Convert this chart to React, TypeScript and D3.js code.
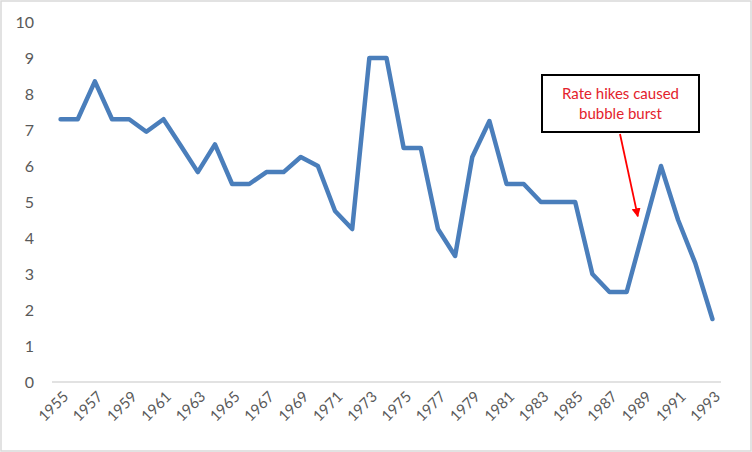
import React, { useEffect, useRef } from "react";
import * as d3 from "d3";

const years: number[] = d3.range(1955, 1994);
const rates: number[] = [
  7.3, 7.3, 8.35, 7.3, 7.3, 6.95, 7.3, 6.57, 5.83, 6.6,
  5.5, 5.5, 5.83, 5.83, 6.25, 6.0, 4.75, 4.25, 9.0, 9.0,
  6.5, 6.5, 4.25, 3.5, 6.25, 7.25, 5.5, 5.5, 5.0, 5.0,
  5.0, 3.0, 2.5, 2.5, 4.25, 6.0, 4.5, 3.3, 1.75,
];
const yTicks: number[] = d3.range(0, 11);
const noteLines: string[] = ["Rate hikes caused", "bubble burst"];
const noteTarget = { year: 1988.65, value: 4.6 };

const width = 752;
const height = 452;
const margin = { top: 22, right: 31, bottom: 70, left: 52 };
const font = "Lato, 'Open Sans', sans-serif";

const App: React.FC = () => {
  const svgRef = useRef<SVGSVGElement | null>(null);

  useEffect(() => {
    const svg = d3.select(svgRef.current);
    svg.selectAll("*").remove();

    const x = d3
      .scaleBand<number>()
      .domain(years)
      .range([margin.left, width - margin.right]);
    const y = d3
      .scaleLinear()
      .domain([0, 10])
      .range([height - margin.bottom, margin.top]);
    const cx = (yr: number) => x(yr)! + x.bandwidth() / 2;
    const step = x.step();
    const xAt = (yr: number) => cx(years[0]) + (yr - years[0]) * step;

    // chart border
    svg
      .append("rect")
      .attr("x", 1)
      .attr("y", 1)
      .attr("width", width - 2)
      .attr("height", height - 2)
      .attr("fill", "#fff")
      .attr("stroke", "#d9d9d9")
      .attr("stroke-width", 1.5);

    // baseline
    svg
      .append("line")
      .attr("x1", margin.left)
      .attr("x2", width - margin.right)
      .attr("y1", y(0))
      .attr("y2", y(0))
      .attr("stroke", "#d9d9d9")
      .attr("stroke-width", 1.5);

    // y labels
    svg
      .append("g")
      .selectAll("text")
      .data(yTicks)
      .join("text")
      .attr("x", 34)
      .attr("y", (d) => y(d))
      .attr("dy", "0.36em")
      .attr("text-anchor", "end")
      .attr("font-family", font)
      .attr("font-size", 16)
      .attr("fill", "#595959")
      .text((d) => d);

    // x labels (every other year)
    svg
      .append("g")
      .selectAll("text")
      .data(years.filter((_, i) => i % 2 === 0))
      .join("text")
      .attr(
        "transform",
        (d) => `translate(${cx(d) + 5},${y(0) + 12}) rotate(-45)`
      )
      .attr("text-anchor", "end")
      .attr("dy", "0.35em")
      .attr("font-family", font)
      .attr("font-size", 15)
      .attr("fill", "#595959")
      .text((d) => d);

    // series line
    const line = d3
      .line<number>()
      .x((_, i) => cx(years[i]))
      .y((d) => y(d));
    svg
      .append("path")
      .datum(rates)
      .attr("d", line)
      .attr("fill", "none")
      .attr("stroke", "#4a7ebb")
      .attr("stroke-width", 4.5)
      .attr("stroke-linejoin", "round")
      .attr("stroke-linecap", "round");

    // annotation
    const box = { x: 542, y: 75, w: 157, h: 57 };
    const note = svg.append("g");
    note
      .append("rect")
      .attr("x", box.x)
      .attr("y", box.y)
      .attr("width", box.w)
      .attr("height", box.h)
      .attr("fill", "#fff")
      .attr("stroke", "#000")
      .attr("stroke-width", 2);
    note
      .selectAll("text")
      .data(noteLines)
      .join("text")
      .attr("x", box.x + box.w / 2)
      .attr("y", (_, i) => 99 + i * 20)
      .attr("text-anchor", "middle")
      .attr("font-family", font)
      .attr("font-size", 15)
      .attr("fill", "#e3222c")
      .text((d) => d);

    svg
      .append("defs")
      .append("marker")
      .attr("id", "arrowhead")
      .attr("viewBox", "0 0 10 10")
      .attr("refX", 9)
      .attr("refY", 5)
      .attr("markerWidth", 5)
      .attr("markerHeight", 5)
      .attr("markerUnits", "strokeWidth")
      .attr("orient", "auto")
      .append("path")
      .attr("d", "M0,0 L10,5 L0,10 Z")
      .attr("fill", "#ff0000");

    svg
      .append("line")
      .attr("x1", 620)
      .attr("y1", box.y + box.h + 2)
      .attr("x2", xAt(noteTarget.year))
      .attr("y2", y(noteTarget.value))
      .attr("stroke", "#ff0000")
      .attr("stroke-width", 1.8)
      .attr("marker-end", "url(#arrowhead)");
  }, []);

  return (
    <svg
      ref={svgRef}
      width={width}
      height={height}
      style={{ position: "absolute", left: 0, top: 0 }}
    />
  );
};

export default App;
